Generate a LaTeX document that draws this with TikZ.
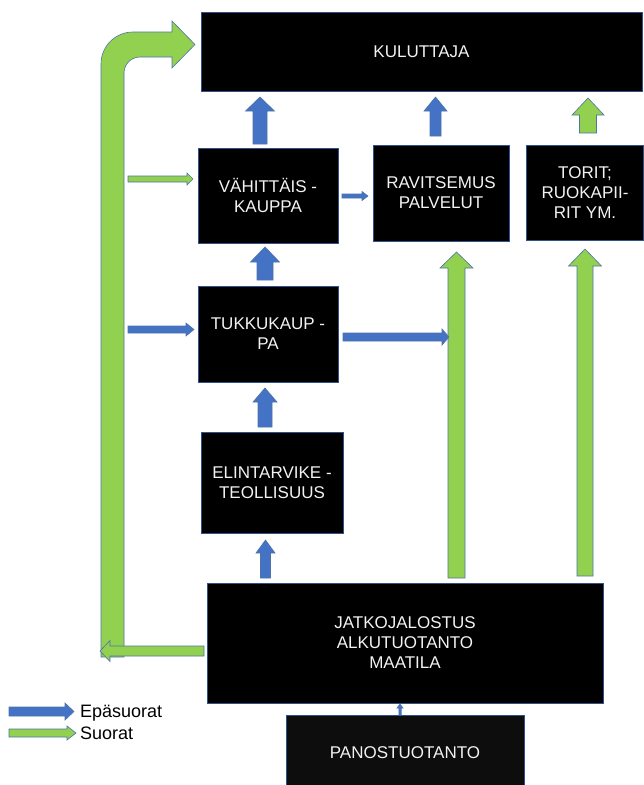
\documentclass[tikz,border=0pt]{standalone}
\usepackage{fontspec}
\setmainfont{Liberation Sans}
\definecolor{arrblue}{HTML}{4472C4}
\definecolor{arrgreen}{HTML}{92D050}
\definecolor{edgeblue}{HTML}{2F528F}
\definecolor{arredge}{HTML}{4F74A8}
\definecolor{boxtext}{HTML}{F2F2F2}
\tikzset{
  box/.style={fill=black, draw=edgeblue, line width=0.8pt, text=boxtext,
    font=\fontsize{17}{20}\selectfont, align=center, inner sep=0pt},
  arr/.style={draw=arredge, line width=0.6pt, line join=miter},
  legend/.style={font=\fontsize{18}{20}\selectfont, text=black, anchor=base west, inner sep=0pt}
}
% vertical up block arrow: colour, cx, bottom, tip, half shaft, half head, head base
\newcommand\myup[7]{%
  \filldraw[arr,fill=#1] (#2-#5,#3) -- (#2-#5,#7) -- (#2-#6,#7) -- (#2,#4) --
    (#2+#6,#7) -- (#2+#5,#7) -- (#2+#5,#3) -- cycle;}
% horizontal block arrow: colour, cy, start x, tip x, half shaft, half head, head base
\newcommand\myside[7]{%
  \filldraw[arr,fill=#1] (#3,#2-#5) -- (#7,#2-#5) -- (#7,#2-#6) -- (#4,#2) --
    (#7,#2+#6) -- (#7,#2+#5) -- (#3,#2+#5) -- cycle;}
\begin{document}
\begin{tikzpicture}[x=1pt,y=-1pt]
\useasboundingbox (0,0) rectangle (644,785);
\fill[white] (0,0) rectangle (644,785);

% boxes
\node[box, minimum width=441pt, minimum height=79pt] (kul) at (421.5,51.5) {KULUTTAJA};
\node[box, minimum width=140pt, minimum height=95pt] (vah) at (268,195.5) {VÄHITTÄIS -\\KAUPPA};
\node[box, minimum width=136pt, minimum height=96pt] (rav) at (441,193) {RAVITSEMUS\\PALVELUT};
\node[box, minimum width=117pt, minimum height=95pt] (tor) at (585,192.5) {TORIT;\\RUOKAPII-\\RIT YM.};
\node[box, minimum width=140pt, minimum height=96pt] (tuk) at (268,334) {TUKKUKAUP -\\PA};
\node[box, minimum width=142pt, minimum height=101pt] (eli) at (272,482.5) {ELINTARVIKE -\\TEOLLISUUS};
\node[box, minimum width=396pt, minimum height=120pt] (jat) at (405,643) {JATKOJALOSTUS\\ALKUTUOTANTO\\MAATILA};
\node[box, fill={rgb,255:red,13;green,13;blue,13}, minimum width=238pt, minimum height=76pt] (pan) at (405,753) {PANOSTUOTANTO};

% vertical arrows
\myup{arrblue}{260}{144}{97}{7}{14.5}{111}      % vah -> kul
\myup{arrblue}{435.5}{136}{97}{5.5}{11.5}{111}  % rav -> kul
\myup{arrgreen}{588}{133}{98}{8.5}{16}{115}     % tor -> kul
\myup{arrblue}{265}{280}{247}{8}{14.5}{262}     % tuk -> vah
\myup{arrblue}{265}{427}{388}{7}{12}{402}       % eli -> tuk
\myup{arrblue}{265.5}{578}{540}{5}{9.5}{553}    % jat -> eli
\myup{arrgreen}{456.5}{578}{252}{8.5}{16.5}{268} % jat -> rav
\myup{arrgreen}{585}{576}{249}{8}{16.5}{266}    % jat -> tor
\myup{arrblue}{400}{715}{704}{1.2}{3}{708}      % pan -> jat

% horizontal arrows
\myside{arrblue}{196}{342}{368}{2}{4.5}{362}     % vah -> rav
\myside{arrblue}{337}{343}{449}{4}{8}{442}       % tuk -> green
\myside{arrblue}{329.5}{128}{194}{3.5}{6.5}{186} % -> tuk
\myside{arrgreen}{179}{128}{193}{3}{6}{187}      % -> vah

% big bent green arrow
\filldraw[arr,fill=arrgreen] (101,657) -- (101,64)
  .. controls (101,46.3) and (115.3,32) .. (133,32)
  -- (172,32) -- (172,21) -- (195,44.5) -- (172,68) -- (172,57) -- (140,57)
  .. controls (131.2,57) and (124,64.2) .. (124,73)
  -- (124,657) -- cycle;
\myside{arrgreen}{651}{204}{100}{5}{10.5}{110}   % jat -> left

% legend
\myside{arrblue}{711.5}{9}{74}{4.5}{8.5}{65}
\myside{arrgreen}{733}{9}{76}{4}{7}{67}
\node[legend] (l1) at (80,717.5) {Epäsuorat};
\node[legend] (l2) at (80,739) {Suorat};
\end{tikzpicture}
\end{document}
